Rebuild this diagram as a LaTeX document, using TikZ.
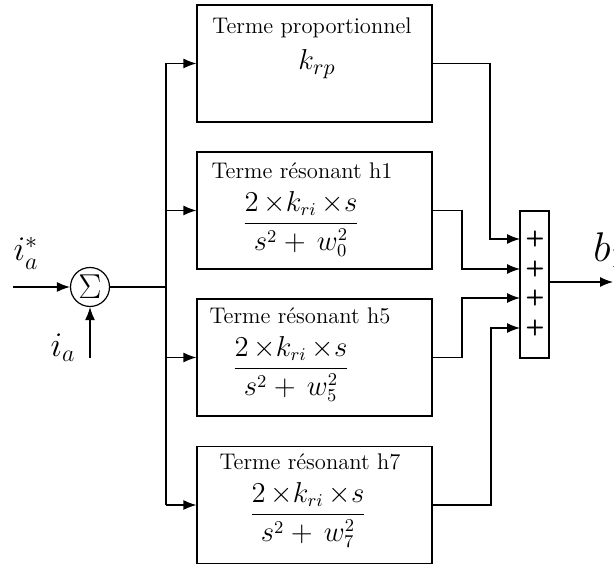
\documentclass[tikz,border=0pt]{standalone}
\usepackage{amsmath}
\usetikzlibrary{arrows.meta}
\begin{document}
\begin{tikzpicture}[x=0.5pt,y=-0.5pt,
  ln/.style={line width=0.6pt},
  arr/.style={ln,-{Latex[length=6.5pt,width=5pt]}},
  blk/.style={draw,ln,minimum width=117.5pt,minimum height=58.5pt,inner sep=0pt},
  ttl/.style={font=\fontsize{11.3}{13}\selectfont,inner sep=0pt},
  frm/.style={font=\fontsize{13.5}{15}\selectfont,inner sep=0pt},
  lbl/.style={font=\fontsize{17}{19}\selectfont,inner sep=0pt},
  pl/.style={font=\sffamily\bfseries\fontsize{11}{12}\selectfont,inner sep=0pt}]
\useasboundingbox (0,0) rectangle (614,565);
% blocks
\node[blk] (box1) at (314.5,63.5) {};
\node[blk] (box2) at (314.5,210.5) {};
\node[blk] (box3) at (314.5,357.5) {};
\node[blk] (box4) at (314.5,505) {};
\node[ttl] (t1) at (312,28) {Terme proportionnel};
\node[lbl,font=\fontsize{15.5}{17}\selectfont] (f1) at (317,64) {$k_{rp}$};
\node[ttl] (t2) at (302,171) {Terme r\'esonant h1};
\node[frm] (f2) at (301,224) {$\dfrac{2\,{\times}k_{ri}\,{\times}s}{s^2+\,w_0^2}$};
\node[ttl] (t3) at (300,316) {Terme r\'esonant h5};
\node[frm] (f3) at (291,369) {$\dfrac{2\,{\times}k_{ri}\,{\times}s}{s^2+\,w_5^2}$};
\node[ttl] (t4) at (310,462) {Terme r\'esonant h7};
\node[frm] (f4) at (308,515) {$\dfrac{2\,{\times}k_{ri}\,{\times}s}{s^2+\,w_7^2}$};
% summing block
\node[draw,ln,minimum width=14.5pt,minimum height=73.5pt,inner sep=0pt] (sb) at (534.5,284.5) {};
\node[pl] (s1) at (535,239) {+};
\node[pl] (s2) at (535,269) {+};
\node[pl] (s3) at (535,298) {+};
\node[pl] (s4) at (535,328) {+};
\coordinate (p1) at (520,239);
\coordinate (p2) at (520,269);
\coordinate (p3) at (520,298);
\coordinate (p4) at (520,328);
\coordinate (c1) at (490,239);
\coordinate (c2) at (462,269);
\coordinate (c3) at (462,298);
\coordinate (c4) at (491,328);
\draw[arr] (box1.east) -| (c1) -- (p1);
\draw[arr] (box2.east) -| (c2) -- (p2);
\draw[arr] (box3.east) -| (c3) -- (p3);
\draw[arr] (box4.east) -| (c4) -- (p4);
\coordinate (out) at (613,282);
\draw[arr] (sb.east |- out) -- (out);
\node[lbl,font=\fontsize{20}{22}\selectfont,anchor=west] (b1) at (593,250) {$b_1$};
% sum circle
\node[draw,ln,circle,minimum size=19.5pt,inner sep=0pt,font=\fontsize{17}{17}\selectfont] (sum) at (90,287) {$\Sigma$};
\coordinate (in1) at (13,287);
\coordinate (in2) at (90,358);
\draw[arr] (in1) -- (sum.west);
\draw[arr] (in2) -- (sum.south);
\node[lbl] (ias) at (26,253) {$i_a^*$};
\node[lbl] (ia) at (63,348) {$i_a$};
% bus
\coordinate (j0) at (166,287);
\coordinate (j1) at (166,63.5);
\coordinate (j2) at (166,210.5);
\coordinate (j3) at (166,357.5);
\coordinate (j4) at (166,505);
\draw[ln] (sum.east) -- (j0);
\draw[ln] (j1) -- (j4);
\draw[arr] (j1) -- (box1.west);
\draw[arr] (j2) -- (box2.west);
\draw[arr] (j3) -- (box3.west);
\draw[arr] (j4) -- (box4.west);
\end{tikzpicture}
\end{document}
